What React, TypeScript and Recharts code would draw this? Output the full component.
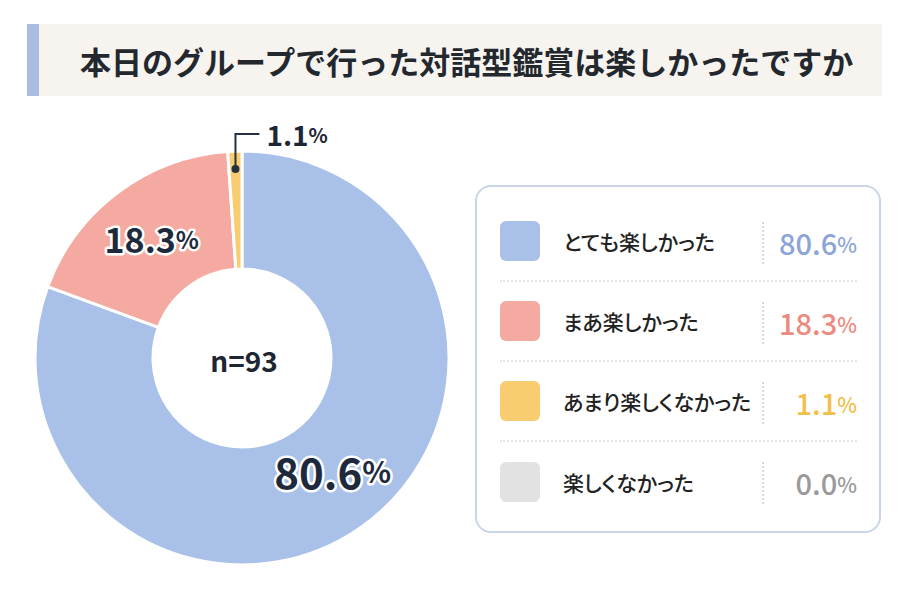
import { PieChart, Pie, Cell, Legend } from "recharts";

const TITLE = "本日のグループで行った対話型鑑賞は楽しかったですか";
const CATEGORIES = ["とても楽しかった", "まあ楽しかった", "あまり楽しくなかった", "楽しくなかった"];
const VALUES = [80.6, 18.3, 1.1, 0.0];
const COLORS = ["#a9c1e8", "#f4aaa1", "#f8cd72", "#e2e2e2"];
const VALUE_COLORS = ["#8ba5d6", "#ec8a80", "#f2bf4a", "#9a9a9a"];
const SAMPLE_LABEL = "n=93";

const RADIAN = Math.PI / 180;
const FONT = "'Noto Sans CJK JP', 'Noto Sans', sans-serif";

const data = CATEGORIES.map((name, i) => ({ name, value: VALUES[i], index: i })).filter(
	(d) => d.value > 0
);

const LABEL_SIZES = [42, 34, 28];
// where the label sits across the ring (0 = inner edge, 1 = outer edge)
const LABEL_RING_POS = [0.47, 0.52, 0.5];
// small angle nudge for the label (degrees)
const LABEL_ANGLE_NUDGE = [4, 0, 0];

const renderLabel = (props: any) => {
	const { cx, cy, midAngle, innerRadius, outerRadius, index, value } = props;
	const size = LABEL_SIZES[index] || 28;
	const pctSize = Math.round(size * 0.72);

	if (value < 5) {
		// small slice: leader line out of the top
		const r = outerRadius - 18;
		const dx = cx + r * Math.cos(-midAngle * RADIAN);
		const dy = cy + r * Math.sin(-midAngle * RADIAN);
		const topY = dy - 35;
		return (
			<g>
				<circle cx={dx} cy={dy} r={4} fill='#253040' />
				<polyline
					points={`${dx},${dy} ${dx},${topY} ${dx + 24},${topY}`}
					fill='none'
					stroke='#253040'
					strokeWidth={2}
				/>
				<text
					x={dx + 31}
					y={topY}
					dominantBaseline='central'
					fontFamily={FONT}
					fontWeight={700}
					fill='#1e2633'
				>
					<tspan fontSize={size}>{value.toFixed(1)}</tspan>
					<tspan fontSize={pctSize}>%</tspan>
				</text>
			</g>
		);
	}

	const radius = innerRadius + (outerRadius - innerRadius) * LABEL_RING_POS[index];
	const angle = midAngle + LABEL_ANGLE_NUDGE[index];
	const x = cx + radius * Math.cos(-angle * RADIAN);
	const y = cy + radius * Math.sin(-angle * RADIAN);

	return (
		<text
			x={x}
			y={y}
			textAnchor='middle'
			dominantBaseline='central'
			fontFamily={FONT}
			fontWeight={700}
			fill='#1e2a3c'
			stroke='#ffffff'
			strokeWidth={5}
			strokeLinejoin='round'
			style={{ paintOrder: "stroke" }}
		>
			<tspan fontSize={size}>{value.toFixed(1)}</tspan>
			<tspan fontSize={pctSize}>%</tspan>
		</text>
	);
};

const LegendBox = () => (
	<div
		style={{
			width: 406,
			height: 348,
			boxSizing: "border-box",
			border: "2px solid #c9d5e8",
			borderRadius: 16,
			background: "#fff",
			padding: "15px 22px 0 23px",
			fontFamily: FONT,
		}}
	>
		{CATEGORIES.map((name, i) => (
			<div
				key={name}
				style={{
					position: "relative",
					height: 80,
					display: "flex",
					alignItems: "center",
					borderBottom: i < CATEGORIES.length - 1 ? "2px dotted #e4e6ea" : "none",
					boxSizing: "border-box",
				}}
			>
				<div
					style={{
						width: 40,
						height: 40,
						borderRadius: 6,
						background: COLORS[i],
					}}
				/>
				<div
					style={{
						marginLeft: 23,
						fontSize: 21,
						fontWeight: 500,
						color: "#222",
						whiteSpace: "nowrap",
						fontFeatureSettings: "'palt'",
					}}
				>
					{name}
				</div>
				<div
					style={{
						position: "absolute",
						left: 262,
						top: 20,
						height: 42,
						borderLeft: "2px dotted #d4d7dd",
					}}
				/>
				<div
					style={{
						position: "absolute",
						right: 0,
						top: 0,
						height: 80,
						display: "flex",
						alignItems: "center",
						color: VALUE_COLORS[i],
						fontWeight: 500,
					}}
				>
					<span style={{ fontSize: 29 }}>{VALUES[i].toFixed(1)}</span>
					<span style={{ fontSize: 21, marginTop: 4 }}>%</span>
				</div>
			</div>
		))}
	</div>
);

const App = () => {
	return (
		<div
			style={{
				position: "absolute",
				left: 0,
				top: 0,
				width: 900,
				height: 600,
				background: "#fff",
				overflow: "hidden",
			}}
		>
			<div
				style={{
					position: "absolute",
					left: 27,
					top: 24,
					width: 855,
					height: 72,
					background: "#f7f4ef",
					borderLeft: "12px solid #a9bde0",
					boxSizing: "border-box",
					display: "flex",
					alignItems: "center",
					paddingLeft: 41,
					fontFamily: FONT,
					fontSize: 31,
					fontWeight: 700,
					color: "#23272e",
					whiteSpace: "nowrap",
				}}
			>
				{TITLE}
			</div>
			<div style={{ position: "absolute", left: 0, top: 0 }}>
				<PieChart width={900} height={600}>
					<Pie
						data={data}
						dataKey='value'
						nameKey='name'
						cx={237}
						cy={353}
						innerRadius={89}
						outerRadius={207}
						startAngle={90}
						endAngle={-270}
						stroke='#ffffff'
						strokeWidth={3}
						labelLine={false}
						label={renderLabel}
						isAnimationActive={false}
					>
						{data.map((d) => (
							<Cell key={`cell-${d.index}`} fill={COLORS[d.index]} />
						))}
					</Pie>
					<text
						x={244}
						y={360}
						textAnchor='middle'
						dominantBaseline='central'
						fontFamily={FONT}
						fontWeight={700}
						fontSize={28}
						fill='#1e2633'
					>
						{SAMPLE_LABEL}
					</text>
					<Legend
						content={() => <LegendBox />}
						wrapperStyle={{ position: "absolute", left: 475, top: 185, width: 406 }}
					/>
				</PieChart>
			</div>
		</div>
	);
};

export default App;
